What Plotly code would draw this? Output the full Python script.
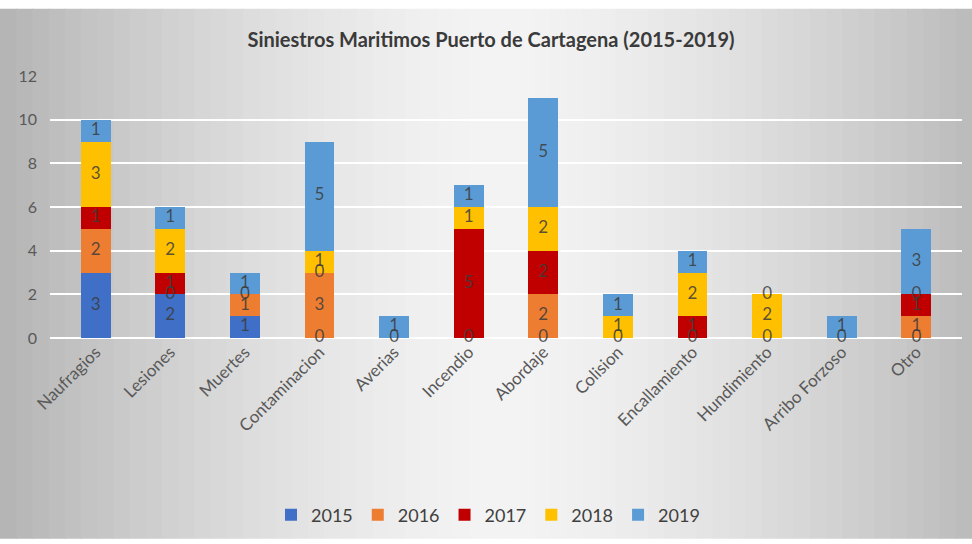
import plotly.graph_objects as go

categories = ["Naufragios", "Lesiones", "Muertes", "Contaminacion", "Averias", "Incendio",
              "Abordaje", "Colision", "Encallamiento", "Hundimiento", "Arribo Forzoso", "Otro"]
years = ["2015", "2016", "2017", "2018", "2019"]
v2015 = [3, 2, 1, 0, 0, 0, 0, 0, 0, 0, 0, 0]
v2016 = [2, 0, 1, 3, 0, 0, 2, 0, 0, 0, 0, 1]
v2017 = [1, 1, 0, 0, 0, 5, 2, 0, 1, 0, 0, 1]
v2018 = [3, 2, 0, 1, 0, 1, 2, 1, 2, 2, 0, 0]
v2019 = [1, 1, 1, 5, 1, 1, 5, 1, 1, 0, 1, 3]
series = [v2015, v2016, v2017, v2018, v2019]
colors = ["#3F6FC6", "#ED7D31", "#C00000", "#FFC000", "#5B9BD5"]
y_ticks = [0, 2, 4, 6, 8, 10, 12]

W, H = 972, 544
L, R, T, B = 50, 10, 76, 203
FONT = "Lato, sans-serif"

fig = go.Figure()
for name, vals, col in zip(years, series, colors):
    fig.add_trace(go.Bar(name=name, x=categories, y=vals, marker_color=col,
                         marker_line_width=0, width=0.4))

# data labels at the middle of each segment (identical labels at the same spot drawn once)
lx, ly, lt = [], [], []
seen = set()
base = [0] * len(categories)
for vals in series:
    for i, v in enumerate(vals):
        key = (i, base[i] + v / 2, v)
        if key not in seen:
            seen.add(key)
            lx.append(categories[i]); ly.append(base[i] + v / 2); lt.append(str(v))
        base[i] += v
fig.add_trace(go.Scatter(x=lx, y=ly, text=lt, mode="text", showlegend=False,
                         textfont=dict(family=FONT, size=17, color="rgba(60,60,60,0.85)"),
                         cliponaxis=False, hoverinfo="skip"))

# background gradient (horizontal) via strips
pw = W - L - R
ph = H - T - B
def px2x(p): return (p - L) / pw
def py2y(p): return 1 - (p - T) / ph
shapes = []
n = 60
for k in range(n):
    x0 = k * W / n
    x1 = (k + 1) * W / n
    c = (x0 + x1) / 2 / W
    d = abs(c - 0.52) / 0.52
    g = int(244 - 64 * d ** 1.5)
    shapes.append(dict(type="rect", xref="paper", yref="paper", layer="below",
                       x0=px2x(x0), x1=px2x(x1 + 1), y0=py2y(H), y1=py2y(8),
                       fillcolor=f"rgb({g},{g},{g})", line_width=0))

fig.update_layout(
    width=W, height=H,
    margin=dict(l=L, r=R, t=T, b=B),
    paper_bgcolor="white", plot_bgcolor="rgba(0,0,0,0)",
    barmode="stack", bargap=0.6,
    shapes=shapes,
    title=dict(text="<b>Siniestros Maritimos Puerto de Cartagena (2015-2019)</b>",
               x=491 / W, xanchor="center", y=1 - 40 / H, yanchor="middle",
               font=dict(family=FONT, size=20, color="#3a3a3a")),
    legend=dict(orientation="h", x=(488 - L) / pw, xanchor="center", y=py2y(520), yanchor="middle",
                font=dict(family=FONT, size=18, color="#404040"),
                bgcolor="rgba(0,0,0,0)", itemwidth=30, traceorder="normal"),
    xaxis=dict(tickangle=-45, tickfont=dict(family=FONT, size=17, color="#595959"),
               showgrid=False, showline=False, ticks=""),
    yaxis=dict(range=[0, 12], tickvals=y_ticks, showgrid=True, gridcolor="white", gridwidth=1.5,
               zeroline=True, zerolinecolor="white", zerolinewidth=1.5,
               tickfont=dict(family=FONT, size=16, color="#595959"), ticks="",
               ticklabelstandoff=12),
    showlegend=True,
)
fig.write_html("out.html")
